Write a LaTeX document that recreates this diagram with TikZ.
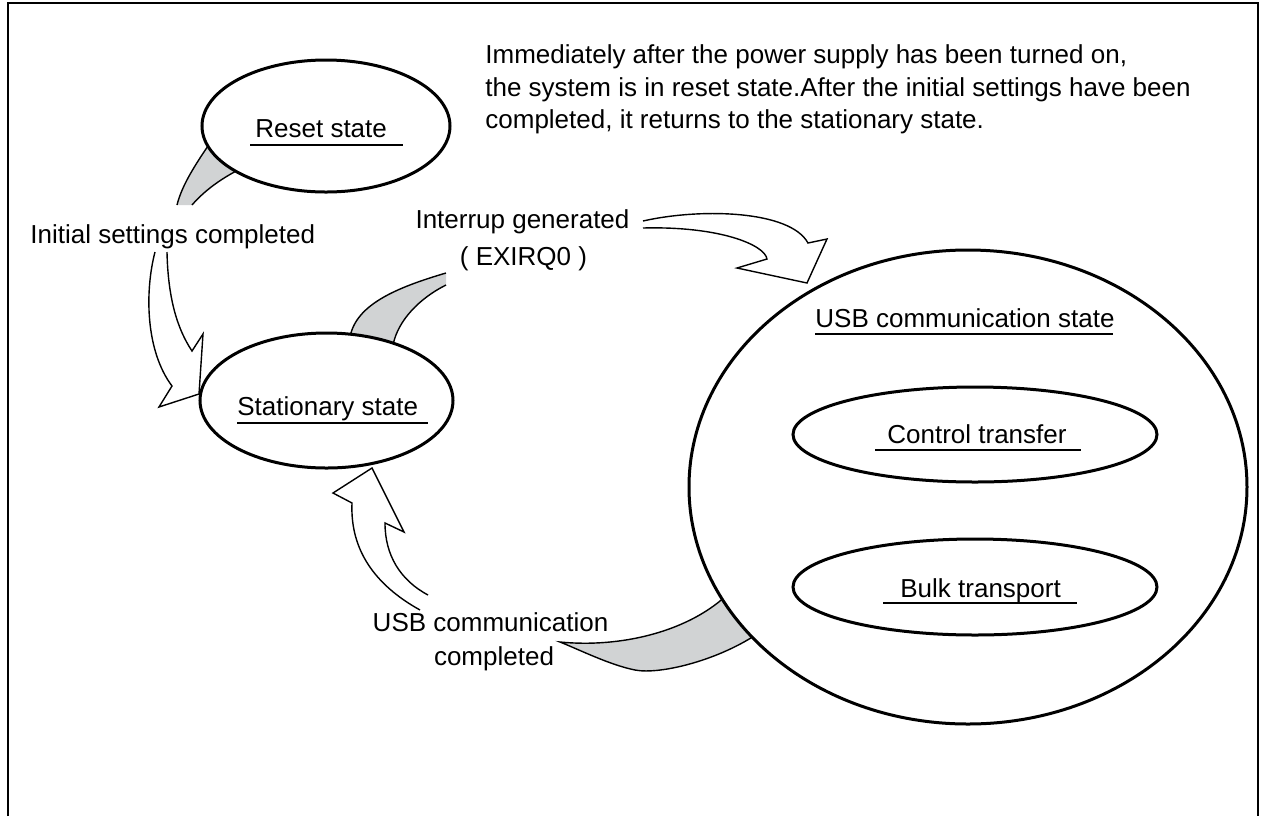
\documentclass[tikz,border=0pt]{standalone}
\usepackage{fontspec}
\setmainfont{Liberation Sans}
\usetikzlibrary{shapes.geometric}
\definecolor{tailgray}{RGB}{209,211,212}
\begin{document}
\begin{tikzpicture}[x=0.5pt,y=-0.5pt,
  state/.style={draw, ellipse, line width=1.5pt, fill=white, inner sep=0pt, outer sep=0pt},
  txt/.style={font=\fontsize{13pt}{15.6pt}\selectfont, inner sep=0pt, anchor=base west},
  ctxt/.style={font=\fontsize{13pt}{15.6pt}\selectfont, inner sep=0pt, anchor=base},
  uline/.style={line width=0.7pt},
  thinline/.style={draw=black, line width=0.7pt},
  barrow/.style={draw=black, line width=0.7pt, line join=miter}]
\useasboundingbox (0,0) rectangle (1266,816);
% frame
\draw[line width=1.4pt] (8,816) -- (8,3) -- (1258,3) -- (1258,816);

% gray tails
\fill[tailgray] (212,140) .. controls (195,165) and (182,185) .. (177,205) -- (192,205) .. controls (205,190) and (222,178) .. (242,168) -- cycle;
\draw[thinline] (212,140) .. controls (195,165) and (182,185) .. (177,205);
\draw[thinline] (192,205) .. controls (205,190) and (222,178) .. (242,168);

\fill[tailgray] (349,352) -- (350,337) .. controls (356,305) and (395,288) .. (446,273) -- (446,285) .. controls (420,298) and (398,320) .. (393,345) -- (394,352) -- cycle;
\draw[thinline] (349,352) -- (350,337) .. controls (356,305) and (395,288) .. (446,273);
\draw[thinline] (446,285) .. controls (420,298) and (398,320) .. (393,345) -- (394,352);

\filldraw[thinline, fill=tailgray] (560,642) .. controls (620,648) and (690,632) .. (730,592) -- (760,632) .. controls (720,660) and (660,675) .. (635,670) .. controls (610,665) and (580,650) .. cycle;

% states
\node[state, minimum width=124pt, minimum height=66pt] (reset) at (326,126) {};
\node[state, minimum width=126.5pt, minimum height=67.5pt] (stat) at (326.5,400.5) {};
\node[state, minimum width=279pt, minimum height=237pt] (usb) at (968,487) {};
\node[state, minimum width=182pt, minimum height=47.5pt] (ctrl) at (975,434.5) {};
\node[state, minimum width=182pt, minimum height=48pt] (bulk) at (975,587) {};

% state labels
\node[txt] (resetlbl) at (255,137) {Reset state};
\draw[uline] (250,145) -- (403,145);
\node[txt] (statlbl) at (237,415) {Stationary state};
\draw[uline] (237,423) -- (428,423);
\node[txt] (usblbl) at (815,327) {USB communication state};
\draw[uline] (815,334) -- (1113,334);
\node[txt] (ctrllbl) at (887,443) {Control transfer};
\draw[uline] (875,450) -- (1081,450);
\node[txt] (bulklbl) at (900,597) {Bulk transport};
\draw[uline] (883,603) -- (1077,603);

% white block arrows
\draw[barrow] (155,252) .. controls (145,290) and (145,350) .. (172,386) -- (159,407) -- (199,394) -- (203,334) -- (192,351) .. controls (178,330) and (168,300) .. (167,252);
\draw[barrow] (643,221) .. controls (700,208) and (790,210) .. (808,243) -- (827,239) -- (807,283) -- (737,268) -- (767,259) .. controls (765,245) and (720,226) .. (643,228);
\draw[barrow] (420,610) .. controls (375,585) and (350,550) .. (352,503) -- (333,493) -- (372,468) -- (404,532) -- (385,523) .. controls (385,555) and (400,580) .. (428,595);

% transition labels
\node[txt] (initlbl) at (30,243) {Initial settings completed};
\node[ctxt] (irqlbl1) at (522.5,228) {Interrup generated};
\node[ctxt] (irqlbl2) at (523.5,265) {( EXIRQ0 )};
\node[ctxt] (donelbl1) at (490.5,631) {USB communication};
\node[ctxt] (donelbl2) at (494,665) {completed};

% note
\node[txt] (note1) at (485,63) {Immediately after the power supply has been turned on,};
\node[txt] (note2) at (485,96) {the system is in reset state.After the initial settings have been};
\node[txt] (note3) at (485,128) {completed, it returns to the stationary state.};
\end{tikzpicture}
\end{document}
